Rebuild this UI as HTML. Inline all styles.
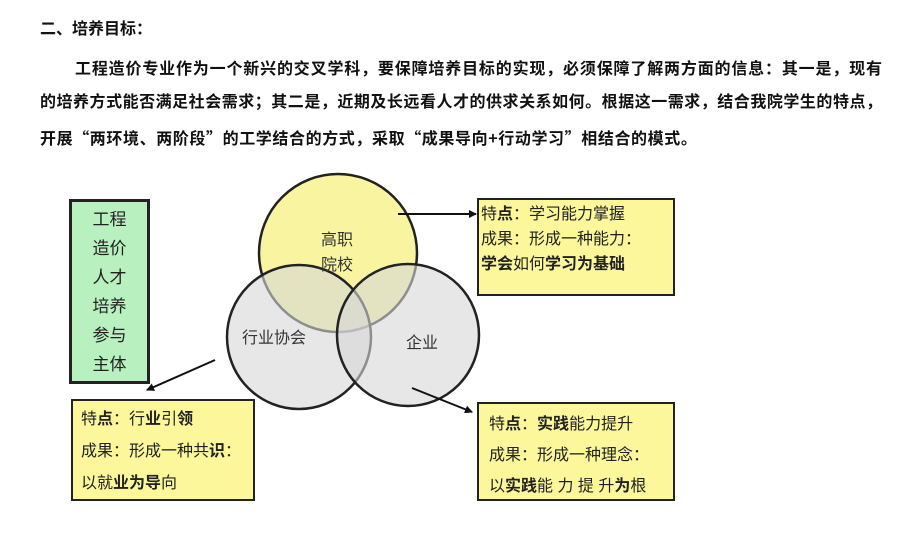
<!DOCTYPE html>
<html><head><meta charset="utf-8"><style>
body{margin:0;width:900px;height:559px;background:#fff;position:relative;overflow:hidden;font-family:"Liberation Sans","Noto Sans CJK SC",sans-serif;}
.t{position:absolute;left:40px;width:842px;font-size:16px;font-weight:bold;color:#111;line-height:20px;white-space:nowrap;}
.j{text-align:justify;text-align-last:justify;}
.box{position:absolute;border:2px solid #222;box-sizing:border-box;font-size:16px;color:#222;}
</style></head><body>
<div class="t" style="top:20px;">二、培养目标：</div>
<div class="t j" style="top:60px;left:75px;width:807px;">工程造价专业作为一个新兴的交叉学科，要保障培养目标的实现，必须保障了解两方面的信息：其一是，现有</div>
<div class="t j" style="top:93px;">的培养方式能否满足社会需求；其二是，近期及长远看人才的供求关系如何。根据这一需求，结合我院学生的特点，</div>
<div class="t" style="top:127px;font-family:'Noto Sans CJK SC',sans-serif;letter-spacing:0.6px;">开展“两环境、两阶段”的工学结合的方式，采取“成果导向+行动学习”相结合的模式。</div>

<div class="box" style="left:69px;top:199px;width:81px;height:185px;background:#b8f0c0;border-width:3px;font-size:17px;line-height:29px;text-align:center;padding-top:3px;">工程<br>造价<br>人才<br>培养<br>参与<br>主体</div>

<svg style="position:absolute;left:0;top:0" width="900" height="559">
<defs><marker id="a" markerWidth="8" markerHeight="8" refX="7" refY="4" orient="auto" markerUnits="userSpaceOnUse"><path d="M0,0 L8,4 L0,8z" fill="#111"/></marker></defs>
<circle cx="338" cy="253" r="79" fill="#f8f4a0" stroke="#222" stroke-width="2.5"/>
<circle cx="299" cy="337" r="72" fill="rgba(215,215,215,0.6)" stroke="#222" stroke-width="2.5"/>
<circle cx="408" cy="335" r="71" fill="rgba(215,215,215,0.6)" stroke="#222" stroke-width="2.5"/>
<line x1="398" y1="214" x2="476" y2="214" stroke="#111" stroke-width="2" marker-end="url(#a)"/>
<line x1="215" y1="360" x2="147" y2="390" stroke="#111" stroke-width="2" marker-end="url(#a)"/>
<line x1="412" y1="388" x2="472" y2="412" stroke="#111" stroke-width="2" marker-end="url(#a)"/>
<g font-size="16" fill="#333" font-family="Liberation Sans,Noto Sans CJK SC,sans-serif">
<text x="321" y="245">高职</text><text x="321" y="270">院校</text>
<text x="242" y="343">行业协会</text>
<text x="406" y="348">企业</text>
</g>
</svg>

<div class="box" style="left:71px;top:399px;width:184px;height:102px;background:#fbf79a;line-height:32px;padding:3px 0 0 8px;">特<b>点</b>：行<b>业</b>引<b>领</b><br>成果：形成一种共<b>识</b>：<br>以就<b>业为导</b>向</div>
<div class="box" style="left:477px;top:198px;width:198px;height:98px;background:#fbf79a;line-height:25px;padding:2px 0 0 2px;">特<b>点</b>：学习能力掌握<br>成果：形成一种能力：<br><b>学会</b>如何<b>学习为基础</b></div>
<div class="box" style="left:477px;top:402px;width:198px;height:99px;background:#fbf79a;line-height:31px;padding:5px 0 0 10px;">特<b>点</b>：<b>实践</b>能力提升<br>成果：形成一种理念：<br>以<b>实践</b>能 力 提 升<b>为</b>根</div>
</body></html>
